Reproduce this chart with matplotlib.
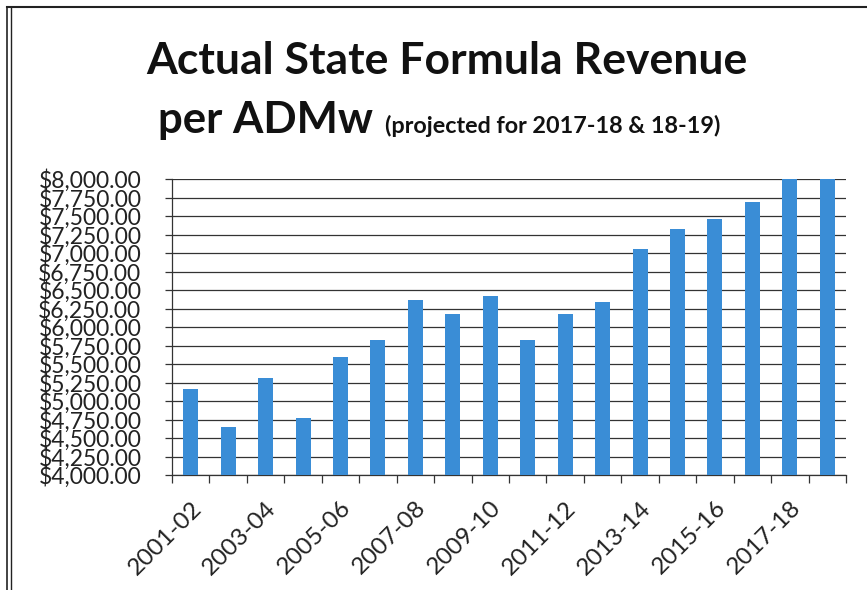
import matplotlib
matplotlib.use("Agg")
import matplotlib.pyplot as plt
from matplotlib.lines import Line2D

categories = ["2001-02", "2002-03", "2003-04", "2004-05", "2005-06", "2006-07",
              "2007-08", "2008-09", "2009-10", "2010-11", "2011-12", "2012-13",
              "2013-14", "2014-15", "2015-16", "2016-17", "2017-18", "2018-19"]
values = [5162, 4644, 5306, 4766, 5590, 5829, 6369, 6176, 6419, 5824,
          6176, 6338, 7059, 7320, 7459, 7685, 8000, 8000]
ytick_values = list(range(4000, 8001, 250))
title_line1 = "Actual State Formula Revenue"
title_line2_main = "per ADMw"
title_line2_note = "(projected for 2017-18 & 18-19)"

plt.rcParams['font.family'] = ['Lato', 'DejaVu Sans']

W, H = 867, 590
fig = plt.figure(figsize=(W / 100, H / 100), dpi=100)

ax = fig.add_axes([172 / W, 1 - 475 / H, (846 - 172) / W, (475 - 179) / H])
x = list(range(len(categories)))
ax.bar(x, values, width=0.4, color="#3a8dd6", zorder=3)
ax.set_xlim(-0.5, len(categories) - 0.5)
ax.set_ylim(4000, 8000)

ax.set_yticks(ytick_values)
ax.set_yticklabels([f"${v:,.2f}" for v in ytick_values], fontsize=16.5,
                   color="#222222")
ax.yaxis.grid(True, color="#333333", linewidth=0.9, zorder=0)
ax.tick_params(axis="y", length=5, width=0.9, color="#333333", pad=17)

# category labels every other bar
ax.set_xticks(x[::2])
ax.set_xticklabels(categories[::2], rotation=45, ha="right",
                   rotation_mode="anchor", fontsize=17.5, color="#222222")
ax.tick_params(axis="x", length=0, pad=16)
# boundary tick marks (Excel style)
ax.set_xticks([i - 0.5 for i in range(len(categories) + 1)], minor=True)
ax.tick_params(axis="x", which="minor", length=6, width=0.9, color="#333333")

for s in ["top", "right"]:
    ax.spines[s].set_visible(False)
for s in ["left", "bottom"]:
    ax.spines[s].set_color("#333333")
    ax.spines[s].set_linewidth(0.9)

fig.text(146 / W, 1 - 74 / H, title_line1, ha="left", va="baseline",
         fontsize=32, fontweight="bold", color="#111111")
t1 = fig.text(158 / W, 1 - 133 / H, title_line2_main, ha="left", va="baseline",
              fontsize=31.5, fontweight="bold", color="#111111")
fig.canvas.draw()
bb = t1.get_window_extent()
fig.text((bb.x1 + 12) / W, 1 - 133 / H, title_line2_note, ha="left", va="baseline",
         fontsize=16.8, fontweight="bold", color="#111111")

# frame border
fig.add_artist(Line2D([7 / W, 1.0], [1 - 7 / H, 1 - 7 / H], color="#222222", lw=1.5))
fig.add_artist(Line2D([7 / W, 7 / W], [1 - 7 / H, 0], color="#222222", lw=1.2))
fig.add_artist(Line2D([11 / W, 11 / W], [1 - 7 / H, 0], color="#222222", lw=1.0))

fig.savefig("out.png", dpi=100)
